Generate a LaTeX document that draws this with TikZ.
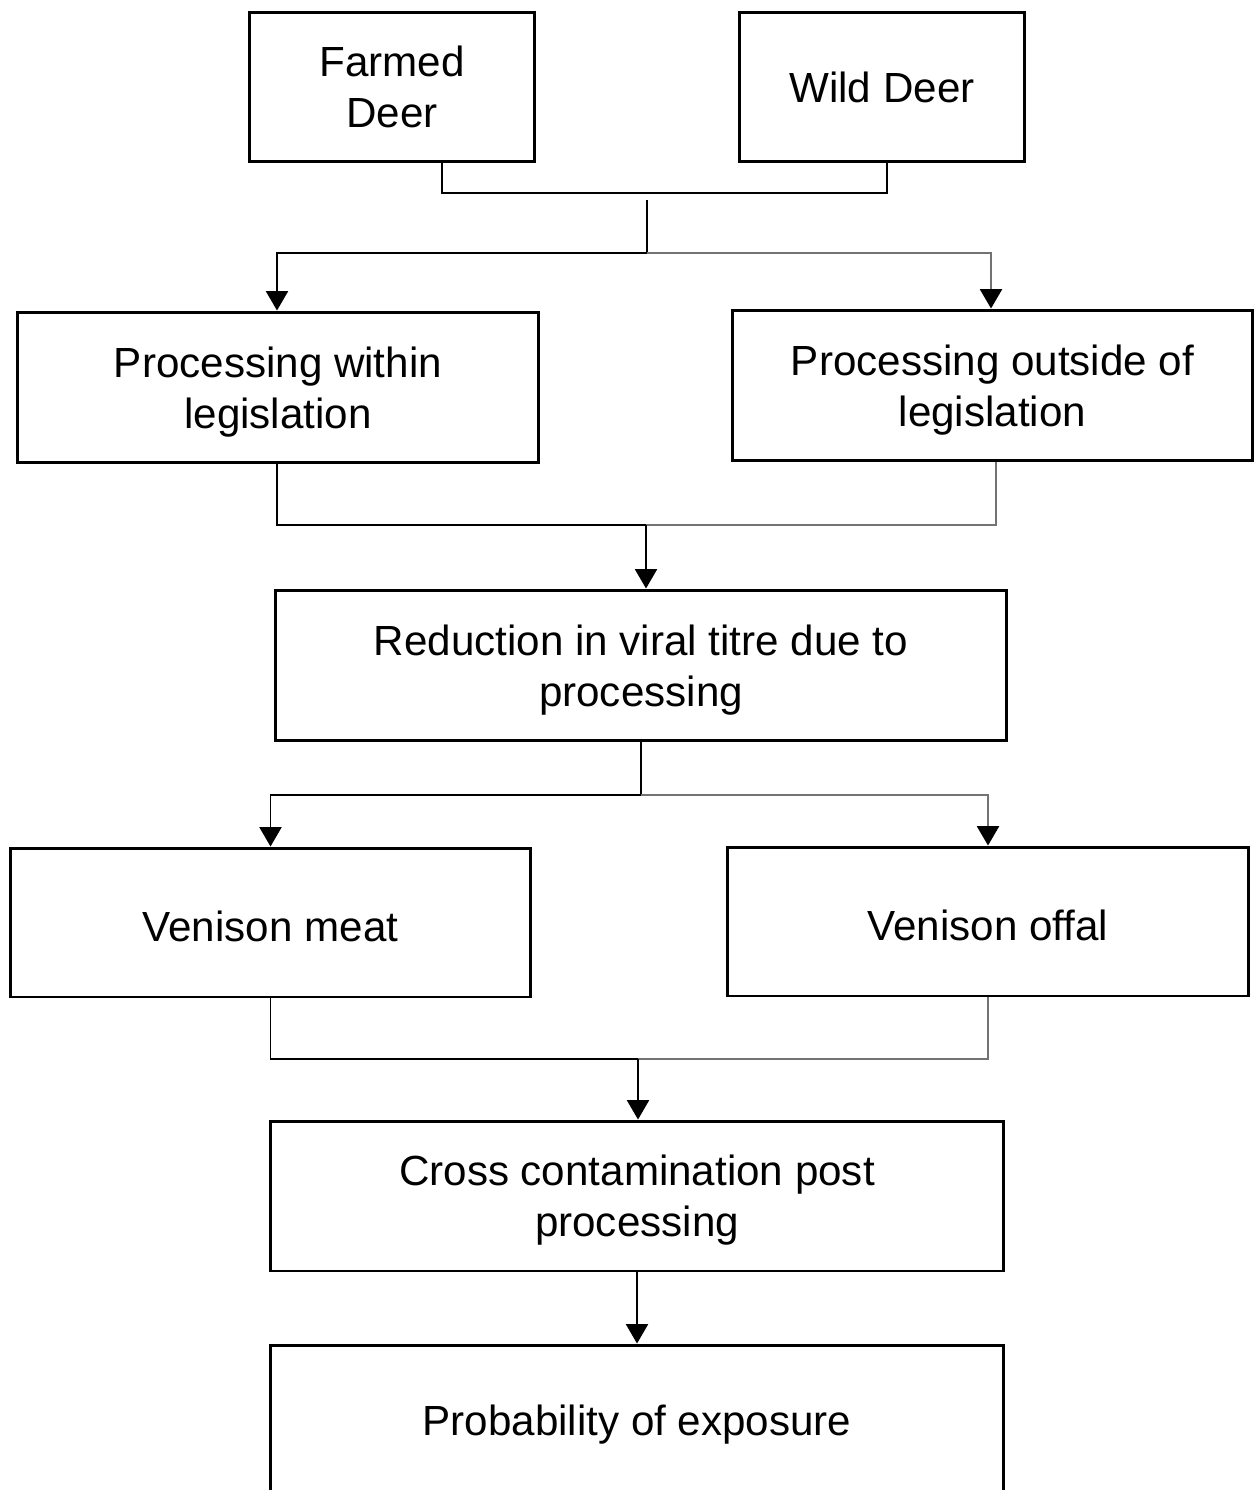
\documentclass[tikz,border=0pt]{standalone}
\usepackage{fontspec}
\setmainfont{Liberation Sans}
\usetikzlibrary{arrows.meta}
\begin{document}
\begin{tikzpicture}[x=0.02cm,y=-0.02cm,
  box/.style={draw=black,line width=1.7pt,fill=white,inner sep=0pt},
  boxtext/.style={align=center,inner sep=0pt,yshift=-2.4pt,
    font=\fontsize{24}{29}\selectfont},
  conn/.style={line width=1.1pt,draw=black},
  connr/.style={line width=1.2pt,draw=black!55},
  arr/.style={-{Triangle[width=12.5pt,length=11pt,color=black,fill=black]}}]
\useasboundingbox (0,0) rectangle (1254,1490);
\node[box,minimum width=5.72cm,minimum height=3cm,
  label={[boxtext,yshift=2.4pt]center:{Farmed\\Deer}}] (farmed) at (392,87) {};
\node[box,minimum width=5.72cm,minimum height=3cm,
  label={[boxtext,yshift=2pt]center:Wild Deer}] (wild) at (882,87) {};
\node[box,minimum width=10.44cm,minimum height=3.02cm,
  label={[boxtext]center:{Processing within\\legislation}}] (within) at (278,387.5) {};
\node[box,minimum width=10.42cm,minimum height=3.02cm,
  label={[boxtext]center:{Processing outside of\\legislation}}] (outside) at (992.5,385.5) {};
\node[box,minimum width=14.64cm,minimum height=3.02cm,
  label={[boxtext]center:{Reduction in viral titre due to\\processing}}] (reduction) at (641,665.5) {};
\node[box,minimum width=10.42cm,minimum height=2.98cm,
  label={[boxtext]center:Venison meat}] (meat) at (270.5,922.5) {};
\node[box,minimum width=10.44cm,minimum height=2.98cm,
  label={[boxtext]center:Venison offal}] (offal) at (988,921.5) {};
\node[box,minimum width=14.68cm,minimum height=3cm,
  label={[boxtext]center:{Cross contamination post\\processing}}] (cross) at (637,1196) {};
\node[box,minimum width=14.68cm,minimum height=3cm,
  label={[boxtext]center:Probability of exposure}] (prob) at (637,1420) {};
% junction coordinates
\coordinate (t1) at (647,193);
\coordinate (s1) at (647,200);
\coordinate (b1) at (647,253);
\coordinate (b2) at (646,525);
\coordinate (b3) at (641,795);
\coordinate (b4) at (638,1059);
% top bracket
\draw[conn] ([xshift=1cm]farmed.south) |- (t1);
\draw[conn] (t1) -| ([xshift=0.1cm]wild.south);
\draw[conn] (s1) -- (b1);
\draw[conn,arr] (b1) -| ([xshift=-0.02cm]within.north);
\draw[connr,arr] (b1) -| ([xshift=-0.03cm]outside.north);
% processing merge
\draw[conn] ([xshift=-0.02cm]within.south) |- (b2);
\draw[connr] ([xshift=0.07cm]outside.south) |- (b2);
\draw[conn,arr] (b2) -- (b2 |- reduction.north);
% reduction split
\draw[conn] (reduction.south) -- (b3);
\draw[conn,arr] (b3) -| (meat.north);
\draw[connr,arr] (b3) -| (offal.north);
% venison merge
\draw[conn] (meat.south) |- (b4);
\draw[connr] (offal.south) |- (b4);
\draw[conn,arr] (b4) -- (b4 |- cross.north);
% final
\draw[conn,arr] (cross.south) -- (prob.north);
\end{tikzpicture}
\end{document}
